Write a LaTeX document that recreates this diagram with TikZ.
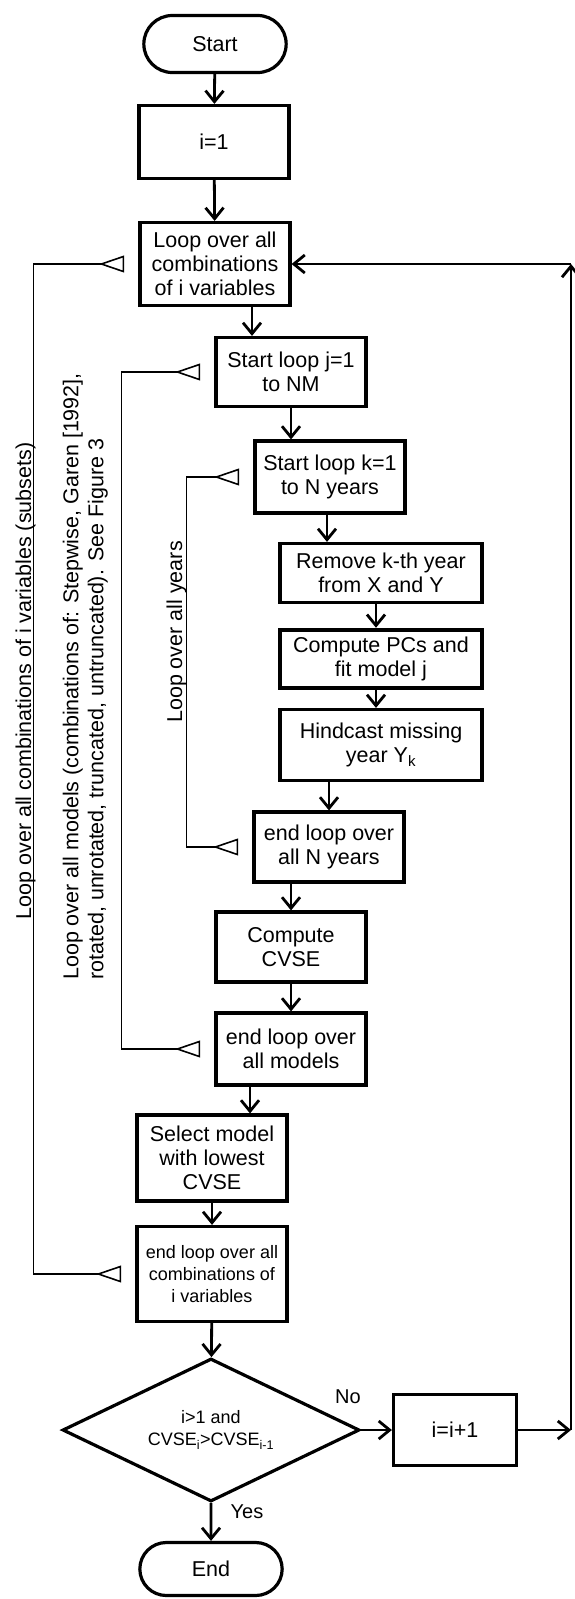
\documentclass[tikz,border=0pt]{standalone}
\usepackage{fontspec}
\setmainfont{Liberation Sans}
\usetikzlibrary{arrows.meta,shapes.geometric,shapes.misc}
\tikzset{
  stepbox/.style={draw,line width=3.2pt,minimum width=150pt,align=center,inner sep=2pt,font=\fontsize{21.5}{24}\selectfont},
  widebox/.style={stepbox,minimum width=202pt},
  termbox/.style={draw,line width=3.2pt,rounded rectangle,minimum width=149pt,minimum height=57pt,font=\fontsize{21.5}{24}\selectfont},
  testbox/.style={draw,line width=3.2pt,diamond,aspect=2,inner sep=0pt,minimum width=297pt,minimum height=143pt,align=center,font=\fontsize{18}{22}\selectfont},
  flow/.style={line width=2.8pt,-{Straight Barb[length=11pt,width=18pt]}},
  loopline/.style={line width=1.4pt},
  looptri/.style={line width=1.6pt,line join=miter},
  looptext/.style={rotate=90,inner sep=0pt,font=\fontsize{21.5}{25}\selectfont},
  flowlabel/.style={font=\fontsize{20}{24}\selectfont}
}
\begin{document}
\begin{tikzpicture}[x=1pt,y=-1pt]
  \useasboundingbox (0,0) rectangle (574,1599);
  \draw
    (215,44) node[termbox] (start){Start}
    (214,142) node[stepbox,minimum height=73pt] (i1){i=1}
    (215,264) node[stepbox,minimum height=83pt] (loopall){Loop over all\\combinations\\of i variables}
    (291,372) node[stepbox,minimum height=69pt] (loopj){Start loop j=1\\to NM}
    (330,477) node[stepbox,minimum height=72pt] (loopk){Start loop k=1\\to N years}
    (381,573) node[widebox,minimum height=59pt] (remove){Remove k-th year\\from X and Y}
    (381,659) node[widebox,minimum height=58pt,line width=4.5pt] (pcs){Compute PCs and\\fit model j}
    (381,745) node[widebox,minimum height=71pt] (hind){Hindcast missing\\year Y\textsubscript{k}}
    (329,847) node[stepbox,minimum height=70pt] (endk){end loop over\\all N years}
    (291,947) node[stepbox,minimum height=70pt] (cvse){Compute\\CVSE}
    (291,1049) node[stepbox,minimum height=72pt] (endj){end loop over\\all models}
    (212,1158) node[stepbox,minimum height=86pt] (select){Select model\\with lowest\\CVSE}
    (212,1274) node[stepbox,minimum height=95pt,font=\fontsize{18}{22}\selectfont] (endall){end loop over all\\combinations of\\i variables}
    (211,1430) node[testbox] (decide){i>1 and\\CVSE\textsubscript{i}>CVSE\textsubscript{i-1}}
    (455,1430) node[stepbox,minimum width=123pt,minimum height=71pt] (incr){i=i+1}
    (211,1569) node[termbox,minimum height=53pt] (stop){End};
  \node[flowlabel] (no) at (348,1397) {No};
  \node[flowlabel] (yes) at (247,1512) {Yes};
  \coordinate (rc1) at (571,1430);
  \coordinate (rc2) at (571,264);
  \begin{scope}[flow]
    \draw (start) to (i1);
    \draw (i1) to (loopall);
    \draw ([xshift=37pt]loopall.south) to ([xshift=37pt]loopall.south |- loopj.north);
    \draw (loopj.south) to (loopj.south |- loopk.north);
    \draw ([xshift=-3pt]loopk.south) to ([xshift=-3pt]loopk.south |- remove.north);
    \draw ([xshift=-5pt]remove.south) to ([xshift=-5pt]pcs.north);
    \draw ([xshift=-5pt]pcs.south) to ([xshift=-5pt]hind.north);
    \draw (hind.south -| endk.north) to (endk.north);
    \draw (endk.south -| cvse.north) to (cvse.north);
    \draw (cvse) to (endj);
    \draw ([xshift=-41pt]endj.south) to ([xshift=-41pt]endj.south |- select.north);
    \draw (select) to (endall);
    \draw (endall) to (decide);
    \draw (decide) to (stop);
    \draw (decide) to (incr);
    \draw (incr) to (rc1);
    \draw (rc1) to (rc2);
    \draw (rc2) to (loopall);
  \end{scope}
  \coordinate (tA) at ([xshift=-37pt]loopall.west);
  \coordinate (tB) at ([xshift=-37pt]endall.west);
  \coordinate (tC) at ([xshift=-37pt]loopj.west);
  \coordinate (tD) at ([xshift=-37pt]endj.west);
  \coordinate (tE) at ([xshift=-37pt]loopk.west);
  \coordinate (tF) at ([xshift=-37pt]endk.west);
  \begin{scope}[looptri]
    \draw (tA) -- ++(22,-7.5) -- ++(0,15) -- cycle;
    \draw (tB) -- ++(22,-7.5) -- ++(0,15) -- cycle;
    \draw (tC) -- ++(22,-7.5) -- ++(0,15) -- cycle;
    \draw (tD) -- ++(22,-7.5) -- ++(0,15) -- cycle;
    \draw (tE) -- ++(22,-7.5) -- ++(0,15) -- cycle;
    \draw (tF) -- ++(22,-7.5) -- ++(0,15) -- cycle;
  \end{scope}
  \begin{scope}[loopline]
    \draw (tA) -- ++(-68,0) |- (tB);
    \draw (tC) -- ++(-56,0) |- (tD);
    \draw (tE) -- ++(-30,0) |- (tF);
  \end{scope}
  \node[looptext,anchor=base] (vartext) at (31,681) {Loop over all combinations of i variables (subsets)};
  \node[looptext,anchor=south west,align=left] (modeltext) at (108,980) {Loop over all models (combinations of: Stepwise, Garen [1992],\\rotated, unrotated, truncated, untruncated). See Figure 3};
  \node[looptext,anchor=base] (yeartext) at (182,632) {Loop over all years};
\end{tikzpicture}
\end{document}
